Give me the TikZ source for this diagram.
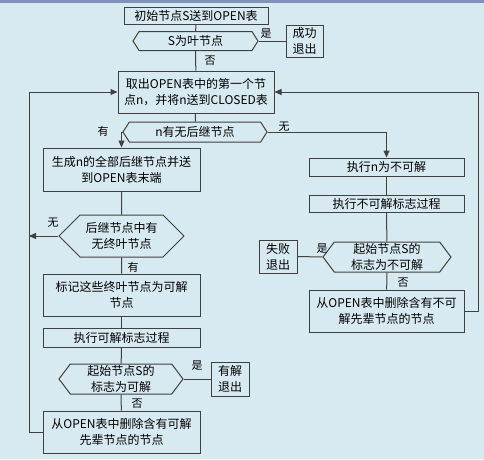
\documentclass[tikz,border=0pt]{standalone}
\usepackage{fontspec}
\setmainfont{Noto Sans CJK SC}
\usetikzlibrary{positioning}
\usetikzlibrary{shapes.symbols}
\usetikzlibrary{arrows.meta}
\definecolor{bg}{RGB}{216, 234, 241}
\definecolor{topband}{RGB}{128, 146, 186}
\definecolor{ln}{RGB}{64, 64, 64}

\tikzset{
  stepbox/.style={rectangle, draw=ln, line width=1pt, fill=bg, inner sep=1pt, align=center, font=\fontsize{12}{16}\selectfont},
  testbox/.style={signal, signal to=west and east, draw=ln, line width=1pt, fill=bg, inner sep=1pt, align=center, font=\fontsize{12}{16}\selectfont},
  ynlabel/.style={inner sep=0pt, font=\fontsize{11}{12}\selectfont},
  flow/.style={draw=ln, line width=1pt},
  flowarr/.style={draw=ln, line width=1pt, -{Triangle[length=7pt, width=6pt]}}
}

\begin{document}
\begin{tikzpicture}
\fill[bg] (0pt, 0pt) rectangle (484pt, -459pt);
\fill[topband] (0pt, 0pt) rectangle (484pt, -3pt);
\useasboundingbox (0pt, 0pt) rectangle (484pt, -459pt);
% main column
\node (start) [stepbox, minimum width=144pt, minimum height=17pt] at (196pt, -15.5pt) {初始节点S送到OPEN表};
\node (leaf) [testbox, minimum width=125pt, minimum height=19pt, signal pointer angle=115] at (195.5pt, -41pt) {S为叶节点};
\node (succ) [stepbox, minimum width=37pt, minimum height=32pt] at (304.5pt, -41pt) {成功\\退出};
\node (take) [stepbox, minimum width=156pt, minimum height=42pt] at (196pt, -92pt) {取出OPEN表中的第一个节\\点n，并将n送到CLOSED表};
\node (has) [testbox, minimum width=144pt, minimum height=20pt, signal pointer angle=115] at (195pt, -132pt) {n有无后继节点};
% left branch
\node (gen) [stepbox, minimum width=157pt, minimum height=43pt] at (121.5pt, -169.5pt) {生成n的全部后继节点并送\\到OPEN表末端};
\node (term) [testbox, minimum width=125pt, minimum height=42pt, signal pointer angle=90] at (121.5pt, -236pt) {后继节点中有\\无终叶节点};
\node (mark) [stepbox, minimum width=157pt, minimum height=42pt] at (121.5pt, -295pt) {标记这些终叶节点为可解\\节点};
\node (proc) [stepbox, minimum width=157pt, minimum height=19pt] at (121.5pt, -337.5pt) {执行可解标志过程};
\node (solv) [testbox, minimum width=124pt, minimum height=30pt, signal pointer angle=106] at (121pt, -379pt) {起始节点S的\\标志为可解};
\node (found) [stepbox, minimum width=38pt, minimum height=34pt] at (230pt, -379pt) {有解\\退出};
\node (del) [stepbox, minimum width=157pt, minimum height=42pt] at (121.5pt, -432pt) {从OPEN表中删除含有可解\\先辈节点的节点};
% right branch
\node (unsolv) [stepbox, minimum width=155pt, minimum height=18pt] at (386.5pt, -167pt) {执行n为不可解};
\node (uproc) [stepbox, minimum width=155pt, minimum height=17pt] at (386.5pt, -203.5pt) {执行不可解标志过程};
\node (usolv) [testbox, minimum width=128pt, minimum height=30pt, signal pointer angle=106] at (387pt, -257pt) {起始节点S的\\标志为不可解};
\node (fail) [stepbox, minimum width=38pt, minimum height=33pt] at (278pt, -256.5pt) {失败\\退出};
\node (udel) [stepbox, minimum width=155pt, minimum height=42pt] at (386.5pt, -311pt) {从OPEN表中删除含有不可\\解先辈节点的节点};
% loop lines
\coordinate (loopL) at (29pt, -92pt);
\coordinate (loopR) at (478pt, -92pt);
% labels
\node (yes1) [ynlabel] at (266pt, -34pt) {是};
\node (no1) [ynlabel] at (210pt, -61pt) {否};
\node (have1) [ynlabel] at (103pt, -131pt) {有};
\node (none1) [ynlabel] at (284pt, -127pt) {无};
\node (none2) [ynlabel] at (53pt, -223pt) {无};
\node (have2) [ynlabel] at (133pt, -267pt) {有};
\node (yes2) [ynlabel] at (197pt, -366pt) {是};
\node (no2) [ynlabel] at (137pt, -404pt) {否};
\node (yes3) [ynlabel] at (322pt, -249pt) {是};
\node (no3) [ynlabel] at (403pt, -283pt) {否};
% connectors
\draw [flow] (start) to (leaf);
\draw [flow] (leaf.east) to (succ.west);
\draw [flow] (leaf) to (take);
\draw [flow] (take) to (has);
\draw [flowarr] (has.west) -| (gen.north);
\draw [flowarr] (has.east) -| (unsolv.north);
\draw [flow] (gen) to (term);
\draw [flowarr] (term.west) to (term.west -| loopL);
\draw [flow] (term) to (mark);
\draw [flow] (mark) to (proc);
\draw [flow] (proc) to (solv);
\draw [flow] (solv.east) to (found.west);
\draw [flow] (solv) to (del);
\draw [flowarr] (del.west) -- (del.west -| loopL) |- (take.west);
\draw [flow] (unsolv) to (uproc);
\draw [flow] (uproc) to (usolv);
\draw [flow] (usolv.west) to (fail.east);
\draw [flow] (usolv) to (udel);
\draw [flowarr] (udel.east) -- (udel.east -| loopR) |- (take.east);
\end{tikzpicture}
\end{document}
